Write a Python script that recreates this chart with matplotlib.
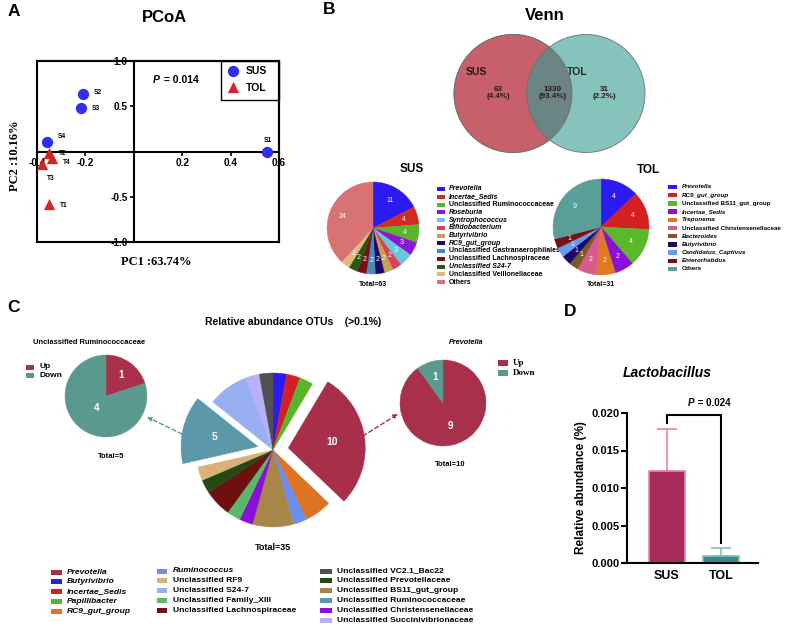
import numpy as np
import matplotlib
matplotlib.use("Agg")
import matplotlib.pyplot as plt
from matplotlib.patches import Circle, Rectangle

plt.rcParams["font.family"] = ["Liberation Sans", "DejaVu Sans"]

W, H = 787, 625

## A - PCoA scores ##
pcoa_names = ["S1", "S2", "S3", "S4", "T1", "T2", "T3", "T4"]
pc1 = [0.55, -0.21, -0.22, -0.36, -0.35, -0.35, -0.38, -0.34]
pc2 = [0.00, 0.64, 0.48, 0.10, -0.58, -0.02, -0.14, -0.07]
pcoa_group = ["SUS", "SUS", "SUS", "SUS", "TOL", "TOL", "TOL", "TOL"]
pcoa_p = "0.014"

## B - Venn counts ##
venn_counts = [63, 1330, 31]
venn_pct = ["4.4%", "93.4%", "2.2%"]

## B - SUS specific OTUs ##
sus_labels = ["Prevotella", "Incertae_Sedis", "Unclassified Ruminococcaceae", "Roseburia",
              "Syntrophococcus", "Bifidobacterium", "Butyrivibrio", "RC9_gut_group",
              "Unclassified Gastranaerophilales", "Unclassified Lachnospiraceae",
              "Unclassified S24-7", "Unclassified Veillonellaceae", "Others"]
sus_values = [11, 4, 4, 3, 3, 2, 2, 2, 2, 2, 2, 2, 24]
sus_italic = [1, 1, 0, 1, 1, 1, 1, 1, 0, 0, 1, 0, 0]
sus_colors = ["#2b1bf0", "#d42a20", "#5ab52a", "#8a17d3", "#6ac6da", "#d2455a", "#c9a050",
              "#1a0a6a", "#4a8ab8", "#7a1010", "#245a10", "#e0b880", "#d97272"]

## B - TOL specific OTUs ##
tol_labels = ["Prevotella", "RC9_gut_group", "Unclassified BS11_gut_group", "Incertae_Sedis",
              "Treponema", "Unclassified Christensenellaceae", "Bacteroides", "Butyrivibrio",
              "Candidatus_Captivus", "Enterorhabdus", "Others"]
tol_values = [4, 4, 4, 2, 2, 2, 1, 1, 1, 1, 9]
tol_italic = [1, 1, 0, 1, 1, 0, 1, 1, 1, 1, 0]
tol_colors = ["#2b1bf0", "#d42020", "#5ab82a", "#8a10d8", "#e07a20", "#d85a90", "#7a5a20",
              "#1a0a6a", "#6a9af0", "#7a1010", "#5a9e98"]

## C - relative abundance OTUs (>0.1%) ##
otu_labels = ["Butyrivibrio", "Incertae_Sedis", "Papillibacter", "Prevotella", "RC9_gut_group",
              "Ruminococcus", "Unclassified BS11_gut_group", "Unclassified Christensenellaceae",
              "Unclassified Family_XIII", "Unclassified Lachnospiraceae",
              "Unclassified Prevotellaceae", "Unclassified RF9", "Unclassified Ruminococcaceae",
              "Unclassified S24-7", "Unclassified Succinivibrionaceae", "Unclassified VC2.1_Bac22"]
otu_values = [1, 1, 1, 10, 2, 1, 3, 1, 1, 2, 1, 1, 5, 3, 1, 1]
otu_colors = {"Prevotella": "#a82e4a", "Butyrivibrio": "#2b1bf0", "Incertae_Sedis": "#d42020",
              "Papillibacter": "#5ab52a", "RC9_gut_group": "#dc7424", "Ruminococcus": "#6a8ef0",
              "Unclassified RF9": "#dcb07a", "Unclassified S24-7": "#98b0f0",
              "Unclassified Family_XIII": "#5ab86a", "Unclassified Lachnospiraceae": "#6e1010",
              "Unclassified VC2.1_Bac22": "#505050", "Unclassified Prevotellaceae": "#244a10",
              "Unclassified BS11_gut_group": "#a8864a", "Unclassified Ruminococcaceae": "#5a98aa",
              "Unclassified Christensenellaceae": "#8a10d8",
              "Unclassified Succinivibrionaceae": "#b8b0f8"}
otu_exploded = ["Prevotella", "Unclassified Ruminococcaceae"]
legend_cols = [["Prevotella", "Butyrivibrio", "Incertae_Sedis", "Papillibacter", "RC9_gut_group"],
               ["Ruminococcus", "Unclassified RF9", "Unclassified S24-7",
                "Unclassified Family_XIII", "Unclassified Lachnospiraceae"],
               ["Unclassified VC2.1_Bac22", "Unclassified Prevotellaceae",
                "Unclassified BS11_gut_group", "Unclassified Ruminococcaceae",
                "Unclassified Christensenellaceae", "Unclassified Succinivibrionaceae"]]
italic_otus = ["Prevotella", "Butyrivibrio", "Incertae_Sedis", "Papillibacter", "RC9_gut_group",
               "Ruminococcus"]

updown = ["Up", "Down"]
rumino_updown = [1, 4]
prevo_updown = [9, 1]
up_col, down_col = "#a8304a", "#5a9a8e"

## D - Lactobacillus ##
groups = ["SUS", "TOL"]
lacto_mean = [0.01227, 0.00095]
lacto_err = [0.00563, 0.00105]
lacto_p = "0.024"

fig = plt.figure(figsize=(W / 100, H / 100), dpi=100)


def px_axes(x0, y0, x1, y1):
    return fig.add_axes([x0 / W, 1 - y1 / H, (x1 - x0) / W, (y1 - y0) / H])


def draw_pie(cx, cy, r, values, colors, explode=None, label_r=0.68, fs=5,
             show=None, weight="normal"):
    ax = px_axes(cx - r, cy - r, cx + r, cy + r)
    wedges, _ = ax.pie(values, colors=colors, startangle=90, counterclock=False,
                       explode=explode, radius=1)
    ax.set_xlim(-1, 1)
    ax.set_ylim(-1, 1)
    if np.isscalar(label_r):
        label_r = [label_r] * len(values)
    for i, (w, v) in enumerate(zip(wedges, values)):
        w.set_clip_on(False)
        w.set_edgecolor(w.get_facecolor())
        w.set_linewidth(0.3)
        if show is not None and not show[i]:
            continue
        ang = np.deg2rad((w.theta1 + w.theta2) / 2)
        x0, y0 = w.center
        ax.text(x0 + label_r[i] * np.cos(ang), y0 + label_r[i] * np.sin(ang), str(v),
                color="white", fontsize=fs, fontweight=weight, ha="center", va="center")
    return ax


# overlay in pixel coordinates for labels and keys
ov = None


def draw_key(x, y, dy, labels, colors, italics, fs, hw, hh, gap, family=None):
    for i, (lab, col, it) in enumerate(zip(labels, colors, italics)):
        yy = y + i * dy
        ov.add_patch(Rectangle((x, yy - hh / 2), hw, hh, color=col, lw=0))
        kw = dict(fontsize=fs, fontweight="bold", va="center", ha="left",
                  style="italic" if it else "normal")
        if family:
            kw["family"] = family
        ov.text(x + hw + gap, yy, lab, **kw)


## A - PCoA ##
ax = px_axes(37, 61, 279, 242)
ax.set_xlim(-0.4, 0.6)
ax.set_ylim(-1, 1)
ax.spines["left"].set_position(("data", 0))
ax.spines["bottom"].set_position(("data", 0))
for s in ax.spines.values():
    s.set_linewidth(1.5)
ax.add_patch(Rectangle((0, 0), 1, 1, transform=ax.transAxes, fill=False, lw=1.5,
                       clip_on=False, zorder=5))
ax.set_xticks([-0.4, -0.2, 0.2, 0.4, 0.6])
ax.set_xticklabels(["-0.4", "-0.2", "0.2", "0.4", "0.6"])
ax.set_yticks([-1.0, -0.5, 0.5, 1.0])
ax.set_yticklabels(["-1.0", "-0.5", "0.5", "1.0"])
ax.tick_params(length=3, width=1.2, labelsize=7.3, pad=1.5)
for t in ax.get_xticklabels() + ax.get_yticklabels():
    t.set_fontweight("bold")
grp_style = {"SUS": dict(marker="o", color="#2f2ff2"), "TOL": dict(marker="^", color="#d42424")}
for g in ["SUS", "TOL"]:
    xs = [x for x, gg in zip(pc1, pcoa_group) if gg == g]
    ys = [y for y, gg in zip(pc2, pcoa_group) if gg == g]
    ax.scatter(xs, ys, s=66, zorder=6, clip_on=False, linewidths=0, **grp_style[g])
offsets = {"S1": (-2, 8), "S2": (8, 1), "S3": (8, 0), "S4": (8, 4), "T1": (8, -1),
           "T2": (7, 0), "T3": (4, -10), "T4": (8, -3)}
for n, x, y in zip(pcoa_names, pc1, pc2):
    ax.annotate(n, (x, y), xytext=offsets[n], textcoords="offset points", fontsize=4.8,
                fontweight="bold", ha="left", va="center", zorder=7)

ov = fig.add_axes([0, 0, 1, 1])
ov.set_xlim(0, W)
ov.set_ylim(H, 0)
ov.axis("off")

ov.text(153, 80, "P", fontsize=7.5, fontweight="bold", style="italic", va="center")
ov.text(161, 80, " = " + pcoa_p, fontsize=7.5, fontweight="bold", va="center")
ov.add_patch(Rectangle((221, 61), 58, 39, fill=False, lw=1, ec="black"))
ov.scatter([233], [71], s=66, linewidths=0, **grp_style["SUS"])
ov.scatter([233], [87], s=66, linewidths=0, **grp_style["TOL"])
ov.text(246, 71, "SUS", fontsize=7.5, fontweight="bold", va="center")
ov.text(246, 88, "TOL", fontsize=7.5, fontweight="bold", va="center")
ov.text(156, 262, "PC1 :63.74%", family="Liberation Serif", fontsize=9, fontweight="bold",
        ha="center", va="center")
ov.text(15, 156, "PC2 :10.16%", family="Liberation Serif", fontsize=9, fontweight="bold",
        ha="center", va="center", rotation=90)
ov.text(164, 18, "PCoA", fontsize=12, fontweight="bold", ha="center", va="center")
ov.text(14, 12, "A", fontsize=12.5, fontweight="bold", ha="center", va="center")

## B - Venn ##
vax = px_axes(440, 20, 700, 170)
vax.set_xlim(440, 700)
vax.set_ylim(170, 20)
vax.axis("off")
red_c = Circle((513, 93.5), 59, fc="#c8606c", ec="#707070", lw=0.6)
teal_c = Circle((586, 93.5), 59, fc="#86c3bd", ec="#707070", lw=0.6)
vax.add_patch(red_c)
vax.add_patch(teal_c)
mid = Circle((586, 93.5), 59, fc="#6a8583", ec="#707070", lw=0.6)
vax.add_patch(mid)
mid.set_clip_path(red_c)
vax.add_patch(Circle((513, 93.5), 59, fill=False, ec="#707070", lw=0.6))
vax.text(476, 72, "SUS", fontsize=7.5, fontweight="bold", ha="center", va="center", color="#2a1616")
vax.text(577, 72, "TOL", fontsize=7.5, fontweight="bold", ha="center", va="center", color="#1c2a2a")
for x, c, p in zip([498, 553, 604], venn_counts, venn_pct):
    vax.text(x, 93, "%d\n(%s)" % (c, p), fontsize=5.8, fontweight="bold", ha="center",
             va="center", color="#2a1a1a", linespacing=1.15)
ov.text(545, 15, "Venn", fontsize=12, fontweight="bold", ha="center", va="center")
ov.text(329, 9, "B", fontsize=12.5, fontweight="bold", ha="center", va="center")

draw_pie(373, 228, 46, sus_values, sus_colors, label_r=0.7, fs=5)
ov.text(412, 169, "SUS", fontsize=8.5, fontweight="bold", ha="center", va="center")
ov.text(373, 284, "Total=63", fontsize=5, fontweight="bold", ha="center", va="center")
draw_key(437, 189, 7.75, sus_labels, sus_colors, sus_italic, 5.0, 8, 4, 4)

draw_pie(601, 227, 48, tol_values, tol_colors, label_r=0.7, fs=5)
ov.text(648, 170, "TOL", fontsize=8.5, fontweight="bold", ha="center", va="center")
ov.text(601, 284, "Total=31", fontsize=5, fontweight="bold", ha="center", va="center")
draw_key(668, 187, 8.2, tol_labels, tol_colors, tol_italic, 4.5, 9, 4.5, 5)

## C - OTU pie and its two drill-downs ##
ov.text(13, 308, "C", fontsize=12.5, fontweight="bold", ha="center", va="center")
ov.text(293, 322, "Relative abundance OTUs    (>0.1%)", fontsize=7.5, fontweight="bold",
        ha="center", va="center")
big_cols = [otu_colors[n] for n in otu_labels]
big_explode = [0.2 if n in otu_exploded else 0 for n in otu_labels]
big_show = [n in otu_exploded for n in otu_labels]
draw_pie(273, 450, 77, otu_values, big_cols, explode=big_explode, label_r=0.58, fs=7.5,
         show=big_show, weight="bold")
ov.text(273, 547, "Total=35", fontsize=6.5, fontweight="bold", ha="center", va="center")

draw_pie(106, 396, 41, rumino_updown, [up_col, down_col], label_r=[0.62, 0.37], fs=7,
         weight="bold")
ov.text(89, 342, "Unclassified Ruminococcaceae", fontsize=5.4, fontweight="bold",
        ha="center", va="center")
ov.text(111, 456, "Total=5", fontsize=5.5, fontweight="bold", ha="center", va="center")
draw_key(26, 367, 8.5, updown, [up_col, down_col], [0, 0], 6, 8, 5, 5)

draw_pie(443, 403, 43, prevo_updown, [up_col, down_col], label_r=[0.57, 0.63], fs=7,
         weight="bold")
ov.text(466, 342, "Prevotella", fontsize=5.2, fontweight="bold", style="italic",
        ha="center", va="center")
ov.text(450, 465, "Total=10", fontsize=5.5, fontweight="bold", ha="center", va="center")
draw_key(498, 363, 10, updown, [up_col, down_col], [0, 0], 6.5, 10, 6, 5,
         family="Liberation Serif")

ov.annotate("", xy=(147, 417), xytext=(182, 434),
            arrowprops=dict(arrowstyle="-|>", ls=(0, (3, 2)), color=down_col, lw=1,
                            mutation_scale=6, shrinkA=0, shrinkB=0))
ov.annotate("", xy=(398, 414), xytext=(363, 436),
            arrowprops=dict(arrowstyle="-|>", ls=(0, (3, 2)), color=up_col, lw=1,
                            mutation_scale=6, shrinkA=0, shrinkB=0))

for x, y0, hw, gap, col in zip([51, 157, 320], [572, 571, 571], [11, 10, 12], [5, 6, 5],
                               legend_cols):
    draw_key(x, y0, 9.8, col, [otu_colors[n] for n in col],
             [n in italic_otus for n in col], 6.1, hw, 5, gap)

## D - Lactobacillus bar chart ##
ov.text(570, 311, "D", fontsize=12.5, fontweight="bold", ha="center", va="center")
ov.text(667, 373, "Lactobacillus", fontsize=10, fontweight="bold", style="italic",
        ha="center", va="center")
bx = px_axes(627, 413, 758, 563)
xpos = np.arange(len(groups))
bar_fc = ["#a82a58", "#3a8a8a"]
bar_ec = ["#e486b0", "#7cc4c4"]
bx.bar(xpos, lacto_mean, width=0.67, color=bar_fc, edgecolor=bar_ec, lw=1.2, zorder=2)
for x, m, e, c in zip(xpos, lacto_mean, lacto_err, bar_ec):
    bx.errorbar([x], [m], yerr=[[0], [e]], fmt="none", ecolor=c, elinewidth=1.2,
                capsize=7, capthick=1.2, zorder=1)
bx.set_xlim(-0.74, 1.69)
bx.set_ylim(0, 0.020)
bx.set_yticks([0, 0.005, 0.010, 0.015, 0.020])
bx.set_yticklabels(["%.3f" % v for v in [0, 0.005, 0.010, 0.015, 0.020]])
bx.set_xticks(xpos)
bx.set_xticklabels(groups)
bx.spines["top"].set_visible(False)
bx.spines["right"].set_visible(False)
bx.spines["left"].set_linewidth(1.5)
bx.spines["bottom"].set_linewidth(1.5)
bx.spines["bottom"].set_bounds(-0.8, 1.69)
bx.tick_params(axis="y", length=4, width=1.5, labelsize=8, pad=1.5)
bx.tick_params(axis="x", length=0, labelsize=9, pad=5)
for t in bx.get_xticklabels() + bx.get_yticklabels():
    t.set_fontweight("bold")
bx.set_ylabel("Relative abundance (%)", fontsize=8.5, fontweight="bold", labelpad=3)
bx.plot([0, 0, 1, 1], [0.01867, 0.01973, 0.01973, 0.00267], color="black", lw=1.5,
        clip_on=False)
bx.text(0.5, 0.0213, "P", fontsize=7, fontweight="bold", style="italic", ha="right",
        va="center")
bx.text(0.52, 0.0213, " = " + lacto_p, fontsize=7, fontweight="bold", ha="left", va="center")

fig.savefig("out.png", dpi=100)
